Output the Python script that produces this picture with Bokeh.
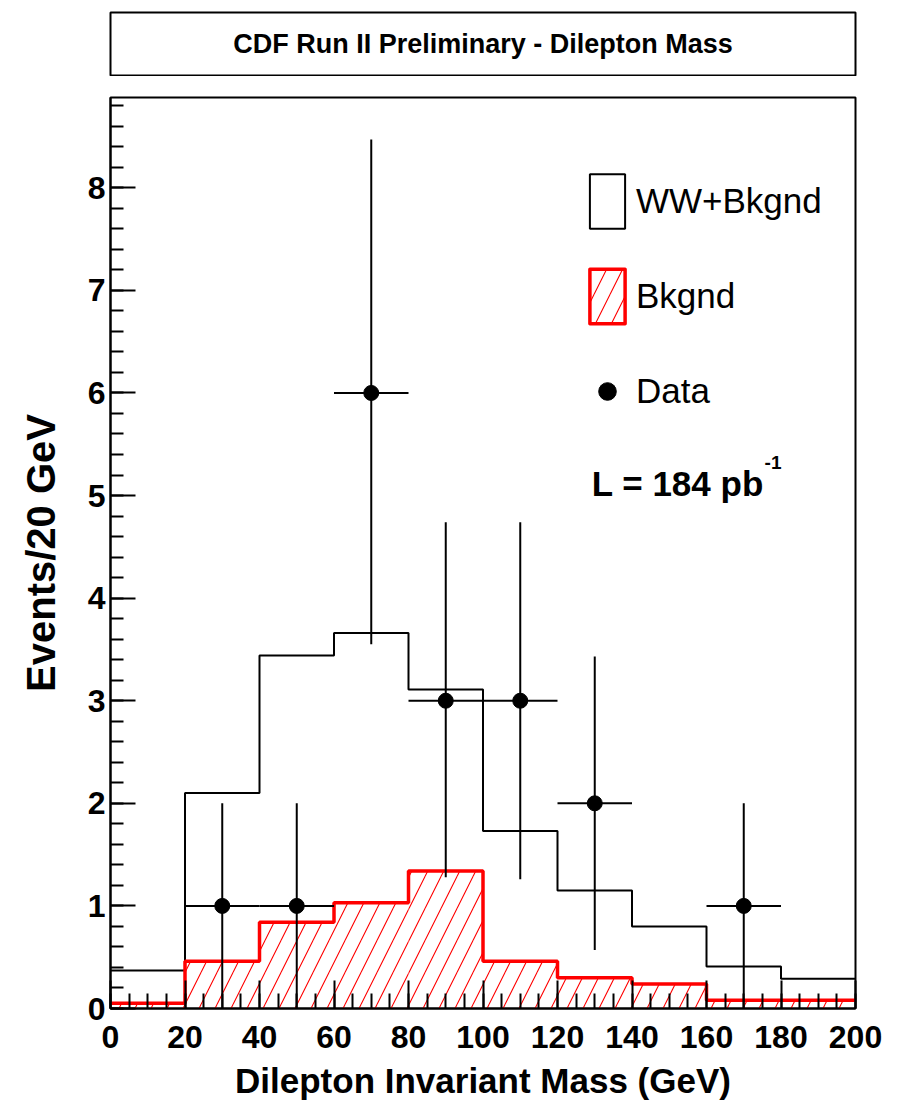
from bokeh.plotting import figure
from bokeh.models import Label, Legend, LegendItem, SingleIntervalTicker, Range1d
from bokeh.layouts import column
from bokeh.embed import file_html
from bokeh.resources import INLINE

FONT = "Liberation Sans"
NAN = float("nan")

# ---- data ----
bin_edges = [0, 20, 40, 60, 80, 100, 120, 140, 160, 180, 200]
ww_bkgnd = [0.37, 2.10, 3.44, 3.66, 3.11, 1.73, 1.15, 0.80, 0.41, 0.29]
bkgnd = [0.05, 0.46, 0.84, 1.03, 1.34, 0.46, 0.30, 0.24, 0.08, 0.08]
data_x = [30, 50, 70, 90, 110, 130, 170]
data_y = [1, 1, 6, 3, 3, 2, 1]
data_lo = [0.0, 0.0, 3.55, 1.28, 1.26, 0.57, 0.0]
data_hi = [2.0, 2.0, 8.47, 4.74, 4.74, 3.43, 2.0]
data_xerr = 10
x_ticks_interval = 20
y_ticks_interval = 1
title_text = "CDF Run II Preliminary - Dilepton Mass"
x_label = "Dilepton Invariant Mass (GeV)"
y_label = "Events/20 GeV"

# ---- title box ----
t = figure(frame_width=745, frame_height=63, min_border_left=110, min_border_right=40,
           min_border_top=12, min_border_bottom=1, x_range=Range1d(0, 1), y_range=Range1d(0, 1),
           x_axis_type=None, y_axis_type=None, toolbar_location=None, output_backend="svg")
t.grid.visible = False
t.outline_line_color = "black"
t.outline_line_width = 2
t.add_layout(Label(x=0.5, y=0.5, text=title_text, text_align="center", text_baseline="middle",
                   text_font=FONT, text_font_style="bold", text_font_size="27px", text_color="black"))

# ---- main plot ----
p = figure(frame_width=745, frame_height=911, min_border_left=110, min_border_right=40,
           min_border_top=21, min_border_bottom=5,
           x_range=Range1d(0, 200), y_range=Range1d(0, 8.88),
           toolbar_location=None, output_backend="svg")
p.grid.visible = False
p.outline_line_color = "black"
p.outline_line_width = 2

left = bin_edges[:-1]
right = bin_edges[1:]
HATCH = dict(hatch_pattern="/", hatch_color="red", hatch_scale=32, hatch_weight=1.1)
p.quad(left=left, right=right, bottom=0, top=bkgnd, fill_alpha=0, line_color=None, **HATCH)
p.step(x=bin_edges, y=ww_bkgnd + [ww_bkgnd[-1]], mode="after", line_color="black", line_width=2)
p.step(x=bin_edges, y=bkgnd + [bkgnd[-1]], mode="after", line_color="red", line_width=3.5)

p.segment(x0=data_x, y0=data_lo, x1=data_x, y1=data_hi, line_color="black", line_width=2)
p.segment(x0=[x - data_xerr for x in data_x], y0=data_y, x1=[x + data_xerr for x in data_x],
          y1=data_y, line_color="black", line_width=2)
r_data = p.scatter(x=data_x, y=data_y, marker="circle", size=15, color="black")

# legend proxies (NaN geometry: nothing drawn in the plot area)
r_ww = p.quad(left=[NAN], right=[NAN], top=[NAN], bottom=[NAN], fill_color="white",
              line_color="black", line_width=2)
r_bk = p.quad(left=[NAN], right=[NAN], top=[NAN], bottom=[NAN], fill_color="white",
              line_color="red", line_width=3.5, line_join="round", **HATCH)

legend = Legend(items=[LegendItem(label="WW+Bkgnd", renderers=[r_ww]),
                       LegendItem(label="Bkgnd", renderers=[r_bk]),
                       LegendItem(label="Data", renderers=[r_data])],
                location=(475, 583), glyph_width=44, glyph_height=68, spacing=27, padding=0, margin=0,
                label_standoff=7, label_text_font=FONT, label_text_font_size="35px",
                label_text_color="black", border_line_alpha=0, background_fill_alpha=0)
p.add_layout(legend)

p.add_layout(Label(x=129.2, y=5.12, text="L = 184 pb", text_font=FONT, text_font_style="bold",
                   text_font_size="35px", text_baseline="alphabetic", text_color="black"))
p.add_layout(Label(x=175.6, y=5.32, text="-1", text_font=FONT, text_font_style="bold",
                   text_font_size="19px", text_baseline="alphabetic", text_color="black"))

# axes
xa = p.xaxis[0]
xa.ticker = SingleIntervalTicker(interval=x_ticks_interval, num_minor_ticks=4)
xa.major_tick_in = 28
xa.major_tick_out = 0
xa.minor_tick_in = 15
xa.minor_tick_out = 0
xa.axis_label = x_label
xa.major_label_standoff = 17
xa.axis_label_standoff = 10

ya = p.yaxis[0]
ya.ticker = SingleIntervalTicker(interval=y_ticks_interval, num_minor_ticks=5)
ya.major_tick_in = 25
ya.major_tick_out = 0
ya.minor_tick_in = 13
ya.minor_tick_out = 0
ya.axis_label = y_label
ya.major_label_standoff = 5
ya.axis_label_standoff = 22

for ax in (xa, ya):
    ax.axis_line_width = 2
    ax.major_tick_line_width = 2
    ax.minor_tick_line_width = 2
    ax.axis_line_color = "black"
    ax.major_tick_line_color = "black"
    ax.minor_tick_line_color = "black"
    ax.major_label_text_font = FONT
    ax.major_label_text_font_style = "bold"
    ax.major_label_text_font_size = "32px"
    ax.major_label_text_color = "black"
    ax.axis_label_text_font = FONT
    ax.axis_label_text_font_style = "bold"
    ax.axis_label_text_color = "black"
xa.axis_label_text_font_size = "35px"
ya.axis_label_text_font_size = "40px"

layout = column(t, p, spacing=0)
open("out.html", "w").write(file_html(layout, INLINE))
